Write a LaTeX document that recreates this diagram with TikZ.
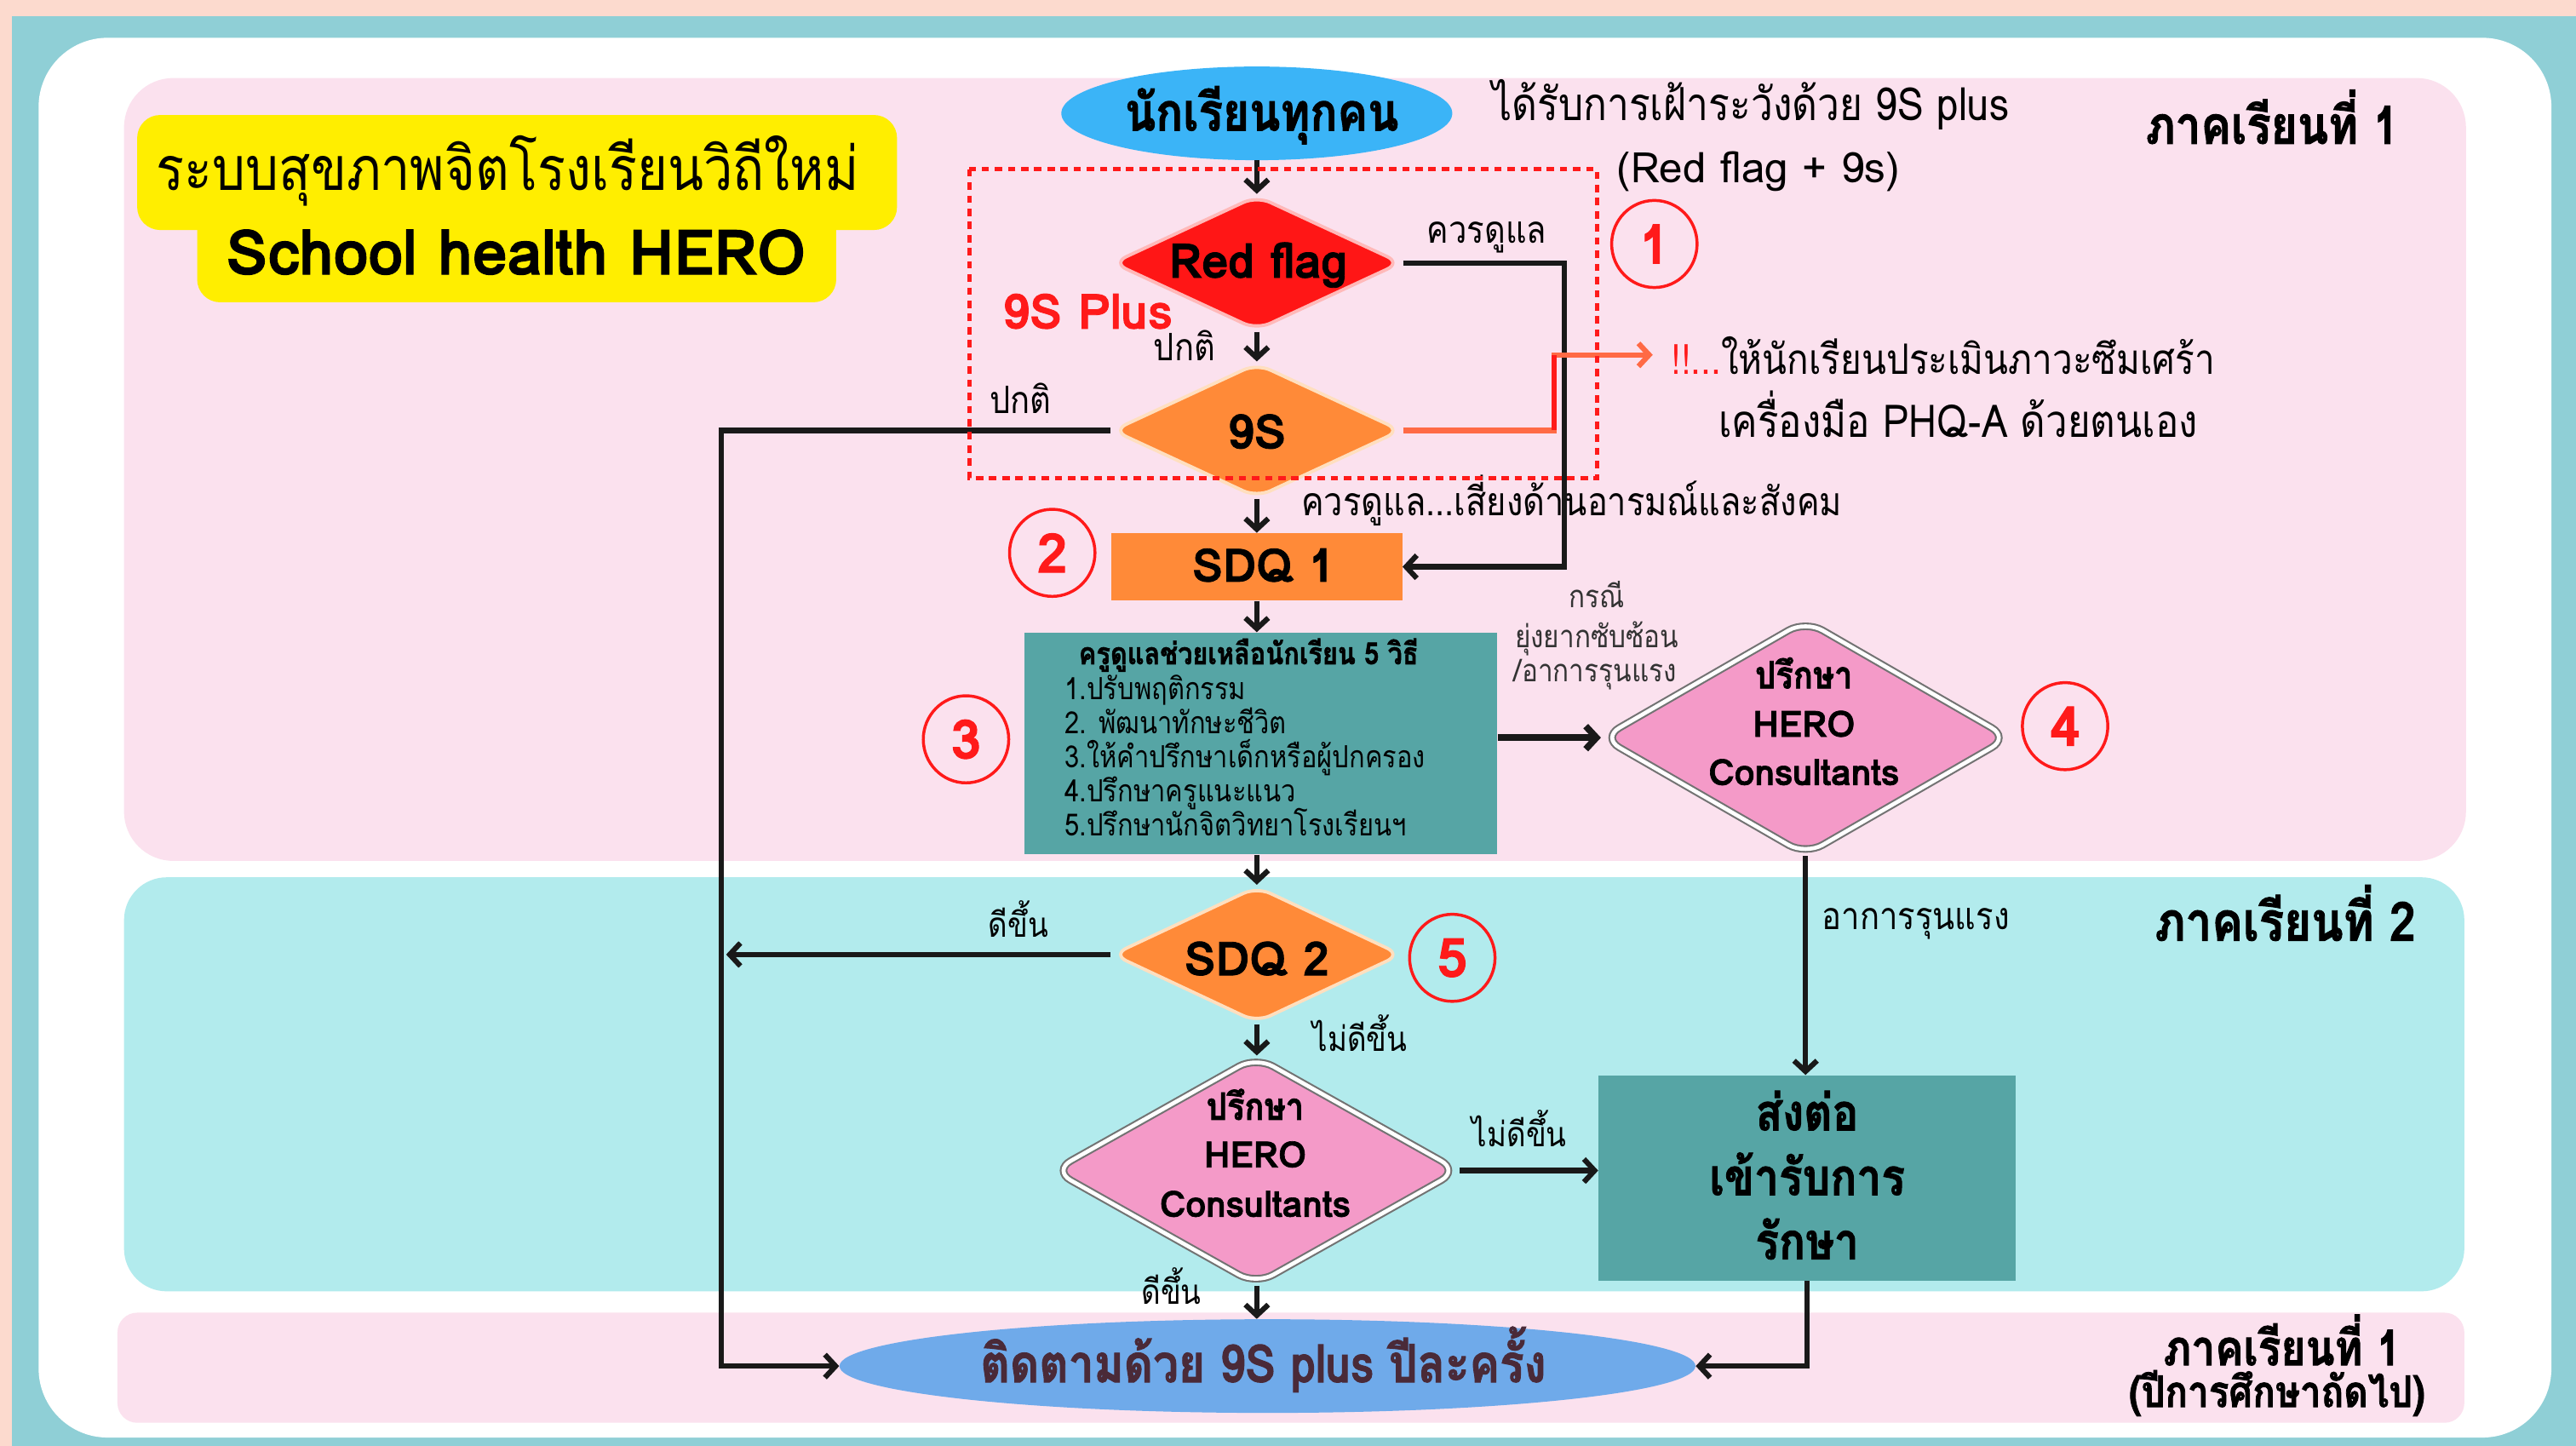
\documentclass[tikz,border=0pt]{standalone}
\usepackage{fontspec}
\setmainfont[Script=Thai,FakeStretch=0.86,BoldFeatures={FakeBold=1.5}]{Loma}
\newfontfamily\latf[BoldFeatures={FakeBold=1.5}]{Loma}
\usetikzlibrary{arrows.meta,shapes.geometric}
\definecolor{peachbg}{HTML}{FCDACE}
\definecolor{framebg}{HTML}{8FCFD6}
\definecolor{pinkpanel}{HTML}{FBE1EE}
\definecolor{cyanpanel}{HTML}{B2EBED}
\definecolor{titleyellow}{HTML}{FFEE00}
\definecolor{skyblue}{HTML}{3BB4F7}
\definecolor{flagred}{HTML}{FF1616}
\definecolor{orangefill}{HTML}{FF8A38}
\definecolor{tealfill}{HTML}{56A5A5}
\definecolor{pinkfill}{HTML}{F49AC8}
\definecolor{followblue}{HTML}{6FAAEA}
\definecolor{markred}{HTML}{FF1A1A}
\definecolor{orangeline}{HTML}{FF6A45}
\definecolor{maroontext}{HTML}{4A2A38}
\newcommand\fsz[1]{\fontsize{#1}{#1}\selectfont}
\begin{document}
\begin{tikzpicture}[x=1pt,y=-1pt,
  txt/.style={inner sep=0pt, anchor=base},
  txtw/.style={inner sep=0pt, anchor=base west},
  conn/.style={draw=black!90, line width=3.2pt, -{Straight Barb[length=6.5pt,width=14pt]}},
  flagshape/.style={diamond, inner sep=0pt, minimum width=176pt, minimum height=82pt, rounded corners=9pt, fill=flagred, draw=flagred!30, line width=2pt},
  orangediamond/.style={diamond, inner sep=0pt, minimum width=176pt, minimum height=82pt, rounded corners=9pt, fill=orangefill, draw=orange!25, line width=2pt},
  orangebox/.style={rectangle, inner sep=0pt, minimum width=177pt, minimum height=41pt, fill=orangefill},
  tealbox/.style={rectangle, inner sep=0pt, fill=tealfill},
  herodiamond/.style={diamond, inner sep=0pt, rounded corners=12pt, fill=pinkfill, draw=black!55, line width=1.1pt, double=white, double distance=2.4pt},
  numcirc/.style={ellipse, draw=markred, line width=1.8pt, minimum width=52pt, minimum height=53pt, inner sep=0pt, text=markred, font=\latf\bfseries\fsz{33}},
  oval/.style={ellipse, inner sep=0pt, minimum height=57pt}
]
\useasboundingbox (0,0) rectangle (1568,880);
% backgrounds
\fill[peachbg] (0,0) rectangle (1568,880);
\fill[framebg] (7,10) rectangle (1568,880);
\fill[white, rounded corners=42pt] (23.5,23) rectangle (1553,875);
\fill[pinkpanel, rounded corners=30pt] (75.5,47.5) rectangle (1501,524);
\fill[cyanpanel, rounded corners=26pt] (75.5,534) rectangle (1500,786);
\fill[pinkpanel, rounded corners=12pt] (71.5,799) rectangle (1500,866);
% title
\fill[titleyellow, rounded corners=14pt] (83.5,70) rectangle (546,140);
\fill[titleyellow, rounded corners=14pt] (120,118) rectangle (509,184);
\node[txt, font=\fsz{37}] (ttl1) at (309,116) {ระบบสุขภาพจิตโรงเรียนวิถีใหม่};
\node[txt, font=\latf\bfseries\fsz{38}] (ttl2) at (314,167) {School health HERO};

% shapes
\node[oval, fill=skyblue, minimum width=238pt] (all) at (765,69) {};
\node[flagshape] (flag) at (765,160) {};
\node[orangediamond] (nine) at (765,262) {};
\node[orangebox] (sdq1) at (765,345) {};
\node[tealbox, minimum width=288pt, minimum height=135pt] (care) at (767.5,452.5) {};
\node[herodiamond, minimum width=248pt, minimum height=143pt] (hero1) at (1099,449) {};
\node[orangediamond, minimum height=83pt] (sdq2) at (765,581) {};
\node[herodiamond, minimum width=247pt, minimum height=139pt] (hero2) at (764.5,712.5) {};
\node[tealbox, minimum width=254pt, minimum height=125pt] (refer) at (1100,717) {};
\node[oval, fill=followblue, minimum width=521pt] (follow) at (771.5,831.5) {};

% texts in shapes
\node[txt, font=\bfseries\fsz{32}] (allt) at (768,79.5) {นักเรียนทุกคน};
\node[txt, font=\latf\bfseries\fsz{29}] (flagt) at (766,169) {Red flag};
\node[txt, font=\latf\bfseries\fsz{29}] (ninet) at (765,273) {9S};
\node[txt, font=\latf\bfseries\fsz{28}] (sdq1t) at (769,354) {SDQ 1};
\node[txt, font=\bfseries\fsz{18.5}] (caret) at (760,404.3) {ครูดูแลช่วยเหลือนักเรียน 5 วิธี};
\node[txtw, font=\fsz{18.6}] (care1) at (648,426) {1.ปรับพฤติกรรม};
\node[txtw, font=\fsz{18.6}] (care2) at (648,446.7) {2. พัฒนาทักษะชีวิต};
\node[txtw, font=\fsz{18.6}] (care3) at (648,467.4) {3.ให้คำปรึกษาเด็กหรือผู้ปกครอง};
\node[txtw, font=\fsz{18.6}] (care4) at (648,488.2) {4.ปรึกษาครูแนะแนว};
\node[txtw, font=\fsz{18.6}] (care5) at (648,509) {5.ปรึกษานักจิตวิทยาโรงเรียนฯ};
\node[txt, font=\bfseries\fsz{23}] (h1a) at (1098,419) {ปรึกษา};
\node[txt, font=\latf\bfseries\fsz{22}] (h1b) at (1098,448.4) {HERO};
\node[txt, font=\latf\bfseries\fsz{22}] (h1c) at (1098,477.8) {Consultants};
\node[txt, font=\latf\bfseries\fsz{28.5}] (sdq2t) at (765,593.6) {SDQ 2};
\node[txt, font=\bfseries\fsz{23}] (h2a) at (764,681.6) {ปรึกษา};
\node[txt, font=\latf\bfseries\fsz{22}] (h2b) at (764,710.5) {HERO};
\node[txt, font=\latf\bfseries\fsz{22}] (h2c) at (764,740.6) {Consultants};
\node[txt, font=\bfseries\fsz{31}] (ref1) at (1100,688) {ส่งต่อ};
\node[txt, font=\bfseries\fsz{31}] (ref2) at (1100,727.4) {เข้ารับการ};
\node[txt, font=\bfseries\fsz{31}] (ref3) at (1100,766.5) {รักษา};
\node[txt, font=\bfseries\fsz{32}, text=maroontext] (followt) at (769,841.3) {ติดตามด้วย 9S plus ปีละครั้ง};

% labels
\node[txt, font=\latf\bfseries\fsz{29.5}, text=markred] (plus) at (662,200) {9S Plus};
\node[txt, font=\fsz{23}] (norm1) at (721,219.6) {ปกติ};
\node[txt, font=\fsz{23}] (norm2) at (621,251.5) {ปกติ};
\node[txt, font=\fsz{23}] (care0) at (905,148) {ควรดูแล};
\node[txtw, font=\fsz{24}] (risk) at (792,314) {ควรดูแล...เสี่ยงด้านอารมณ์และสังคม};
\node[txtw, font=\fsz{27.8}] (watch1) at (908,73.6) {ได้รับการเฝ้าระวังด้วย 9S plus};
\node[txtw, font=\latf\fsz{25.6}] (watch2) at (984,111.3) {(Red flag + 9s)};
\node[txtw, font=\fsz{25.5}] (phq1) at (1017,227.6) {\textcolor{markred}{!!...}ให้นักเรียนประเมินภาวะซึมเศร้า};
\node[txtw, font=\fsz{27.5}] (phq2) at (1046,266) {เครื่องมือ PHQ-A ด้วยตนเอง};
\node[txt, font=\fsz{19}, text=black!80] (case1) at (972,369.8) {กรณี};
\node[txt, font=\fsz{19}, text=black!80] (case2) at (972,394) {ยุ่งยากซับซ้อน};
\node[txt, font=\fsz{19}, text=black!80] (case3) at (971,414.7) {/อาการรุนแรง};
\node[txtw, font=\fsz{23}] (sev) at (1109,565.6) {อาการรุนแรง};
\node[txt, font=\fsz{21}] (better1) at (620,570.4) {ดีขึ้น};
\node[txtw, font=\fsz{21}] (notb1) at (799,639.8) {ไม่ดีขึ้น};
\node[txtw, font=\fsz{21}] (notb2) at (896,697.8) {ไม่ดีขึ้น};
\node[txt, font=\fsz{21}] (better2) at (713,793.7) {ดีขึ้น};
\node[txt, font=\bfseries\fsz{32}] (sem1) at (1383,87.5) {ภาคเรียนที่ 1};
\node[txt, font=\bfseries\fsz{33}] (sem2) at (1391,572.6) {ภาคเรียนที่ 2};
\node[txt, font=\bfseries\fsz{30}] (sem3) at (1389,831) {ภาคเรียนที่ 1};
\node[txt, font=\bfseries\fsz{26.5}] (sem3b) at (1386,856.4) {(ปีการศึกษาถัดไป)};

% circled numbers
\node[numcirc] (n1) at (1007,148.5) {1};
\node[numcirc] (n2) at (640.5,336.5) {2};
\node[numcirc] (n3) at (588,450) {3};
\node[numcirc] (n4) at (1257,442) {4};
\node[numcirc] (n5) at (884,583) {5};

% connectors
\coordinate (rfturn) at (952,345);
\coordinate (loopbot) at (439,831.5);
\coordinate (sdqtip) at (442,581);
\coordinate (oA) at (946,262);
\coordinate (oB) at (946,216);
\coordinate (phqtip) at (1006,216);
\draw[conn] (all.south) -- (flag.north);
\draw[conn] (flag.south) -- (nine.north);
\draw[conn] (nine.south) -- (sdq1.north);
\draw[conn] (sdq1.south) -- (sdq1.south |- care.north);
\draw[conn, line width=4pt] (hero1.west -| care.east) -- (hero1.west);
\draw[conn] (sdq2.north |- care.south) -- (sdq2.north);
\draw[conn] (sdq2.south) -- (sdq2.south |- hero2.north);
\draw[conn] (sdq2.south |- hero2.south) -- (sdq2.south |- follow.north);
\draw[conn] (hero2.east) -- (hero2.east -| refer.west);
\draw[conn] (hero1.south) -- (hero1.south |- refer.north);
\draw[conn] (refer.south) |- (follow.east);
\draw[conn] (flag.east) -| (rfturn) -- (sdq1.east);
\draw[conn] (nine.west) -| (loopbot) -- (follow.west);
\draw[conn] (sdq2.west) -- (sdqtip);
\draw[orangeline, line width=3.2pt, -{Straight Barb[length=6.5pt,width=14pt]}] (nine.east) -- (oA) -- (oB) -- (phqtip);
\draw[markred, line width=3.2pt] (oA) -- (oB);

% dotted frame
\draw[markred, line width=2.6pt, dash pattern=on 4.5pt off 3.5pt] (590,103) rectangle (972,291);
\end{tikzpicture}
\end{document}
